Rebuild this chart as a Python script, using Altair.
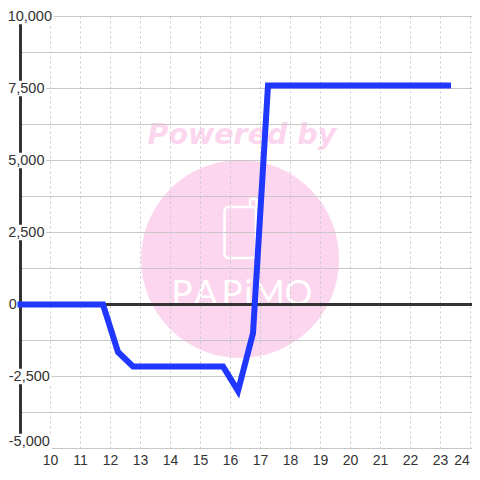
import altair as alt
import pandas as pd

line_x = [9, 11.75, 12.25, 12.75, 15.75, 16.25, 16.75, 17.25, 23.25]
line_y = [0, 0, -1650, -2150, -2150, -3000, -1000, 7600, 7600]
x_ticks = list(range(10, 25))
y_grid = [-5000 + 1250 * i for i in range(13)]
y_labels = [10000, 7500, 5000, 2500, 0, -2500, -4760]
y_texts = ["10,000", "7,500", "5,000", "2,500", "0", "-2,500", "-5,000"]
y_text_end = [10.05, 9.8, 9.8, 9.8, 8.88, 9.98, 9.98]
logo_letters = list("PAPiMO")
logo_x = [14.38, 15.17, 16.05, 16.6, 17.27, 18.27]

PLOT_W = 451.5
xs = alt.Scale(domain=[9, 9 + PLOT_W / 30], nice=False, zero=False)
ys = alt.Scale(domain=[-5000, 10000], nice=False, zero=False)
X = lambda f: alt.X(f, type="quantitative", scale=xs, axis=None)
Y = lambda f: alt.Y(f, type="quantitative", scale=ys, axis=None)
PINK = "#fcd6ee"

line_df = pd.DataFrame({"x": line_x, "y": line_y})
label_df = pd.DataFrame({"v": y_labels, "t": y_texts, "e": y_text_end})
label_df["s"] = 8.5
label_df["lo"] = label_df["v"] - 270
label_df["hi"] = label_df["v"] + 270
label_df["re"] = label_df["e"] + 0.06
xlab_df = pd.DataFrame({"x": [min(t, 23.72) for t in x_ticks], "y": [-5450] * len(x_ticks), "t": [str(t) for t in x_ticks]})

circle = alt.Chart(pd.DataFrame({"x": [16.32], "y": [1580]})).mark_point(
    filled=True, shape="circle", size=39204, color=PINK, opacity=1
).encode(X("x"), Y("y"))

powered = alt.Chart(pd.DataFrame({"x": [16.38], "y": [5885], "t": ["Powered by"]})).mark_text(
    font="DejaVu Sans", fontSize=28.5, fontWeight="bold", fontStyle="italic",
    color=PINK, align="center", baseline="middle"
).encode(X("x"), Y("y"), text="t:N")

tab = alt.Chart(pd.DataFrame({"x": [16.65], "x2": [16.87], "y": [3100], "y2": [3663]})).mark_rect(
    fill=PINK, stroke="white", strokeWidth=2.5, cornerRadius=2
).encode(X("x"), x2="x2:Q", y=Y("y"), y2="y2:Q")

icon = alt.Chart(pd.DataFrame({"x": [15.8], "x2": [16.85], "y": [1615], "y2": [3385]})).mark_rect(
    fill=PINK, stroke="white", strokeWidth=2.5, cornerRadius=4
).encode(X("x"), x2="x2:Q", y=Y("y"), y2="y2:Q")

logo = alt.Chart(pd.DataFrame({"x": logo_x, "y": [-20] * 6, "t": logo_letters})).mark_text(
    font="Lato", fontSize=35, fontWeight="normal", color="white", align="center", baseline="alphabetic"
).encode(X("x"), Y("y"), text="t:N")

xgrid = alt.Chart(pd.DataFrame({"x": x_ticks})).mark_rule(
    color="#c8c8c8", strokeWidth=1, strokeDash=[2, 3]
).encode(X("x"))

xlabels = alt.Chart(xlab_df).mark_text(
    font="Liberation Sans", fontSize=14, color="#333333", align="center", baseline="middle"
).encode(X("x"), Y("y"), text="t:N")

ygrid = alt.Chart(pd.DataFrame({"y": y_grid})).mark_rule(
    color="#c8c8c8", strokeWidth=1
).encode(Y("y"))

bgs = alt.Chart(label_df).mark_rect(fill="white").encode(X("s"), x2="re:Q", y=Y("lo"), y2="hi:Q")

axis_left = alt.Chart(pd.DataFrame({"x": [9]})).mark_rule(color="#333333", strokeWidth=3).encode(X("x"))
zero = alt.Chart(pd.DataFrame({"y": [0]})).mark_rule(color="#333333", strokeWidth=3).encode(Y("y"))

line = alt.Chart(line_df).mark_line(color="#1f37ff", strokeWidth=6, strokeCap="square", strokeJoin="miter", clip=False).encode(
    X("x"), Y("y"))

labels = alt.Chart(label_df).mark_text(
    font="Liberation Sans", fontSize=14.5, color="#333333", align="right", baseline="middle"
).encode(X("e"), Y("v"), text="t:N")

chart = alt.layer(circle, powered, tab, icon, logo, xgrid, ygrid, axis_left, bgs, zero, line, labels, xlabels).properties(
    width=PLOT_W, height=432,
    padding={"left": 12.5, "top": 8.5, "right": 0, "bottom": 23.5},
    autosize=alt.AutoSizeParams(type="none"),
).configure_view(stroke=None)

chart.save("out.html", embed_options={"renderer": "svg", "actions": False})
